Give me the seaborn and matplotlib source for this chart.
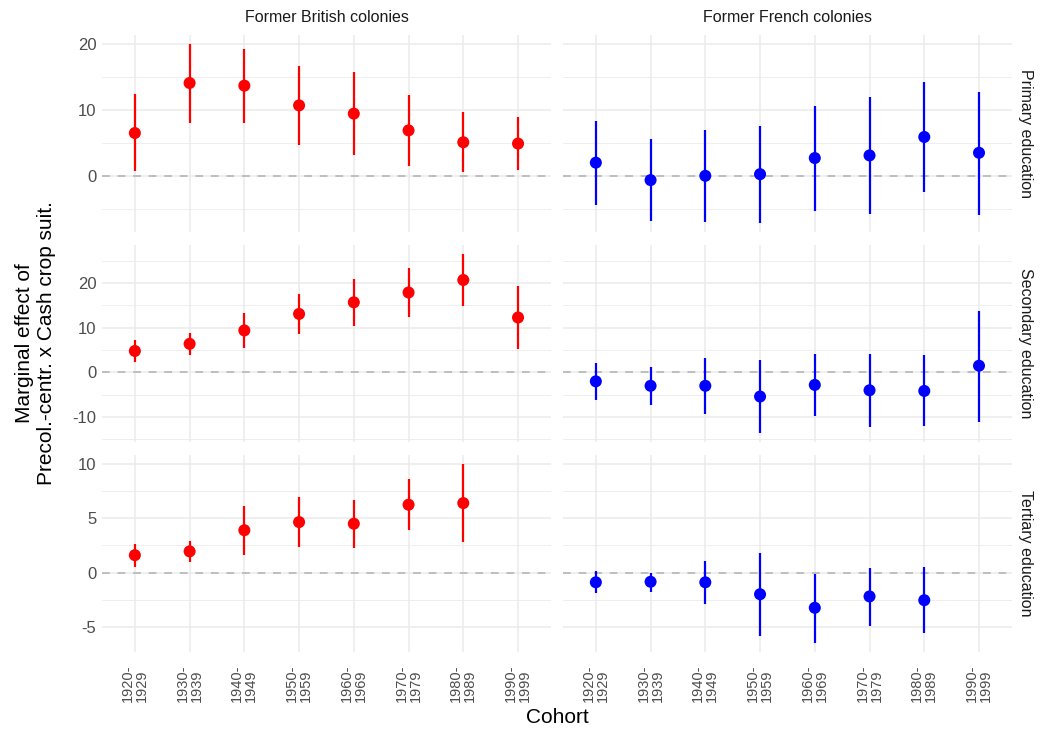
import numpy as np
import pandas as pd
import matplotlib
matplotlib.use("Agg")
import matplotlib.pyplot as plt
import seaborn as sns
from matplotlib.ticker import MultipleLocator

# ---------------- data ----------------
cohorts = ["1920-\n1929", "1930-\n1939", "1940-\n1949", "1950-\n1959",
           "1960-\n1969", "1970-\n1979", "1980-\n1989", "1990-\n1999"]
colonies = ["Former British colonies", "Former French colonies"]
levels = ["Primary education", "Secondary education", "Tertiary education"]

brit_primary_est = [6.5, 14.1, 13.7, 10.7, 9.45, 6.9, 5.1, 4.9]
brit_primary_lo = [0.75, 8.1, 8.0, 4.7, 3.2, 1.5, 0.6, 0.95]
brit_primary_hi = [12.4, 20.0, 19.2, 16.7, 15.7, 12.3, 9.65, 8.9]

fr_primary_est = [2.0, -0.65, 0.0, 0.25, 2.7, 3.1, 5.9, 3.5]
fr_primary_lo = [-4.4, -6.9, -7.0, -7.2, -5.3, -5.8, -2.5, -5.9]
fr_primary_hi = [8.4, 5.6, 6.9, 7.6, 10.6, 11.9, 14.2, 12.7]

brit_secondary_est = [4.8, 6.4, 9.4, 13.1, 15.7, 17.9, 20.7, 12.3]
brit_secondary_lo = [2.4, 3.9, 5.4, 8.7, 10.3, 12.4, 14.9, 5.2]
brit_secondary_hi = [7.3, 8.8, 13.3, 17.5, 21.0, 23.4, 26.5, 19.4]

fr_secondary_est = [-2.0, -3.0, -3.0, -5.4, -2.8, -4.0, -4.15, 1.5]
fr_secondary_lo = [-6.1, -7.3, -9.3, -13.6, -9.8, -12.2, -12.1, -11.0]
fr_secondary_hi = [2.1, 1.3, 3.3, 2.7, 4.1, 4.2, 3.85, 13.85]

brit_tertiary_est = [1.6, 1.95, 3.9, 4.65, 4.5, 6.25, 6.4, np.nan]
brit_tertiary_lo = [0.5, 0.95, 1.6, 2.35, 2.3, 3.9, 2.85, np.nan]
brit_tertiary_hi = [2.65, 2.9, 6.15, 6.95, 6.7, 8.6, 10.0, np.nan]

fr_tertiary_est = [-0.9, -0.85, -0.9, -2.0, -3.25, -2.2, -2.55, np.nan]
fr_tertiary_lo = [-1.9, -1.75, -2.9, -5.85, -6.5, -4.95, -5.6, np.nan]
fr_tertiary_hi = [0.1, 0.0, 1.1, 1.8, -0.15, 0.45, 0.5, np.nan]

series = {
    ("Primary education", "Former British colonies"): (brit_primary_est, brit_primary_lo, brit_primary_hi),
    ("Primary education", "Former French colonies"): (fr_primary_est, fr_primary_lo, fr_primary_hi),
    ("Secondary education", "Former British colonies"): (brit_secondary_est, brit_secondary_lo, brit_secondary_hi),
    ("Secondary education", "Former French colonies"): (fr_secondary_est, fr_secondary_lo, fr_secondary_hi),
    ("Tertiary education", "Former British colonies"): (brit_tertiary_est, brit_tertiary_lo, brit_tertiary_hi),
    ("Tertiary education", "Former French colonies"): (fr_tertiary_est, fr_tertiary_lo, fr_tertiary_hi),
}
colony_colors = {"Former British colonies": "#FF0000", "Former French colonies": "#0000FF"}

rows = []
for (lev, col), (est, lo, hi) in series.items():
    for i, c in enumerate(cohorts):
        rows.append(dict(level=lev, colony=col, cohort=c, pos=i,
                         est=est[i], lo=lo[i], hi=hi[i]))
df = pd.DataFrame(rows)

# ---------------- style ----------------
sns.set_theme(style="white")
plt.rcParams["font.family"] = ["Liberation Sans", "DejaVu Sans"]
plt.rcParams["axes.unicode_minus"] = False

fig, axes = plt.subplots(3, 2, figsize=(10.41, 7.34), dpi=100, sharey="row", sharex=True)
fig.subplots_adjust(left=0.098, right=0.972, top=0.952, bottom=0.1117,
                    wspace=0.027, hspace=0.066)

major_steps = {"Primary education": 10, "Secondary education": 10, "Tertiary education": 5}
grid_c = "#EBEBEB"

for r, lev in enumerate(levels):
    sub_row = df[df.level == lev]
    ymin = np.nanmin(sub_row.lo.values)
    ymax = np.nanmax(sub_row.hi.values)
    pad = 0.05 * (ymax - ymin)
    for c, col in enumerate(colonies):
        ax = axes[r, c]
        sub = sub_row[(sub_row.colony == col)].dropna()
        for s in ax.spines.values():
            s.set_visible(False)
        ax.set_axisbelow(True)
        ax.axhline(0, color="#BEBEBE", lw=1.4, ls=(0, (4, 4)), zorder=1)
        ax.vlines(sub.pos, sub.lo, sub.hi, color=colony_colors[col], lw=1.6, zorder=2)
        sns.scatterplot(data=sub, x="pos", y="est", color=colony_colors[col], s=75,
                        edgecolor="none", linewidth=0, legend=False, ax=ax, zorder=3)
        ax.set_xlim(-0.6, len(cohorts) - 1 + 0.6)
        ax.set_ylim(ymin - pad, ymax + pad)
        step = major_steps[lev]
        ax.yaxis.set_major_locator(MultipleLocator(step))
        ax.yaxis.set_minor_locator(MultipleLocator(step / 2))
        ax.set_xticks(range(len(cohorts)))
        ax.grid(which="major", axis="both", color=grid_c, lw=1.1)
        ax.grid(which="minor", axis="y", color=grid_c, lw=0.6)
        ax.set_xlabel("")
        ax.set_ylabel("")
        ax.tick_params(axis="both", which="both", length=0)
        ax.tick_params(axis="y", labelsize=12, labelcolor="#4D4D4D", pad=4)
        if r == 0:
            ax.text(0.5, 1.09, col, transform=ax.transAxes, ha="center", va="center",
                    fontsize=11.5, color="#1A1A1A")
        if c == 1:
            ax.text(1.03, 0.5, lev, transform=ax.transAxes, ha="center", va="center",
                    rotation=-90, fontsize=11.5, color="#1A1A1A")

for c in range(2):
    ax = axes[2, c]
    ax.set_xticklabels(cohorts, rotation=90, fontsize=10.5, color="#4D4D4D",
                       ha="center", va="top", multialignment="left", linespacing=1.0)
    ax.tick_params(axis="x", pad=9)

fig.text(0.034, 0.533, "Marginal effect of\nPrecol.-centr. x Cash crop suit.",
         rotation=90, ha="center", va="center", fontsize=15, color="black")
fig.text(0.535, 0.022, "Cohort", ha="center", va="center", fontsize=15, color="black")

fig.savefig("out.png", dpi=100, facecolor="white")
